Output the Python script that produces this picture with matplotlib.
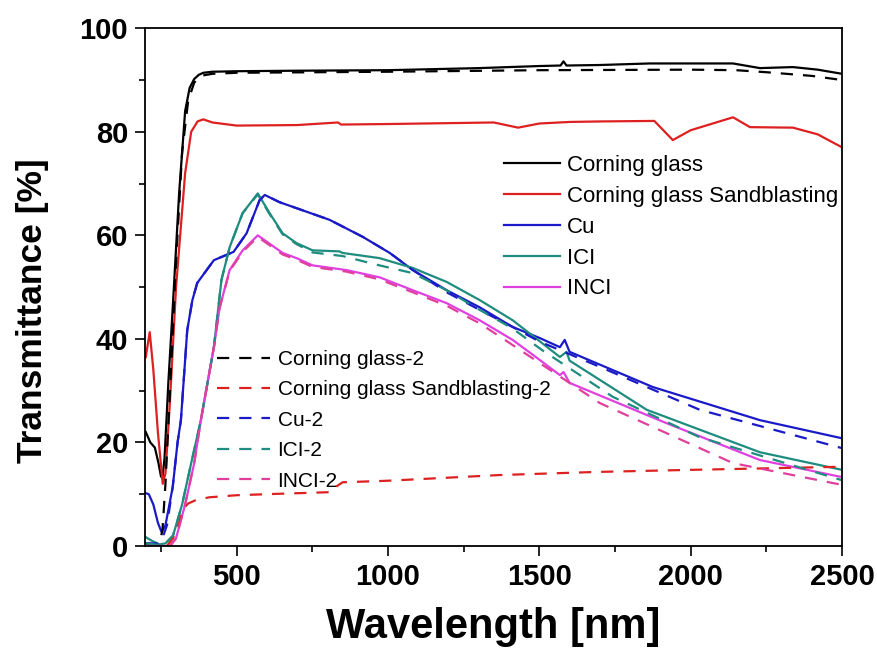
import matplotlib
matplotlib.use("Agg")
import matplotlib.pyplot as plt
from matplotlib.ticker import MultipleLocator

plt.rcParams["font.family"] = ["Liberation Sans", "DejaVu Sans"]

# ---- data (wavelength in nm, transmittance in %) ----
cg_wl = [200, 215, 230, 242, 250, 255, 262, 275, 290, 310, 330, 345, 360, 375, 390, 420, 500,
         700, 1000, 1300, 1500, 1570, 1580, 1590, 1700, 1865, 2000, 2140, 2229, 2338, 2420, 2500]
cg_t = [22, 20, 19, 16, 13.5, 13, 17, 32, 47, 68, 84, 88.5, 90.2, 91, 91.4, 91.6, 91.7,
        91.8, 91.9, 92.3, 92.7, 92.8, 93.6, 92.8, 92.9, 93.2, 93.2, 93.2, 92.3, 92.5, 92.0, 91.2]

cg2_wl = [200, 230, 245, 255, 265, 280, 300, 320, 340, 360, 380, 420, 500, 1000, 1500,
          2000, 2150, 2252, 2400, 2500]
cg2_t = [0.5, 0.3, 0.5, 3, 12, 30, 55, 76, 86, 89.5, 90.8, 91.2, 91.4, 91.6, 91.9,
         92.0, 91.9, 91.5, 90.8, 90.0]

sb_wl = [200, 213, 225, 240, 256, 265, 280, 300, 330, 350, 371, 390, 420, 500, 700, 835,
         845, 1000, 1350, 1430, 1500, 1600, 1700, 1880, 1941, 2000, 2140, 2196, 2338, 2420, 2500]
sb_t = [36.5, 41.3, 34, 22, 12, 14, 28, 50, 72, 80, 82, 82.4, 81.8, 81.2, 81.3, 81.8,
        81.4, 81.5, 81.8, 80.8, 81.6, 81.9, 82.0, 82.1, 78.4, 80.3, 82.8, 80.9, 80.8, 79.5, 77.0]

sb2_wl = [270, 290, 310, 321, 340, 367, 410, 500, 650, 814, 830, 850, 1000, 1369, 1690,
          2000, 2252, 2500]
sb2_t = [0, 1.5, 4.5, 7, 8.2, 8.9, 9.4, 9.8, 10.1, 10.4, 11.5, 12.3, 12.6, 13.7, 14.3,
         14.7, 15.0, 15.3]

cu_wl = [200, 210, 225, 240, 252, 265, 289, 305, 316, 337, 354, 370, 425, 490, 533, 576,
         593, 642, 807, 917, 1006, 1082, 1194, 1303, 1412, 1500, 1568, 1584, 1600, 1875,
         2229, 2500]
cu_t = [10.2, 10.0, 8, 4.5, 2.7, 4, 11.4, 20, 24.3, 41.7, 47.5, 50.8, 55.2, 56.8, 60.4,
        66.8, 67.8, 66.4, 63, 59.7, 56.6, 53.3, 49.4, 46.1, 42.3, 40.2, 38.4, 39.8, 37.5,
        30.7, 24.3, 20.8]

cu2_wl = [200, 240, 255, 270, 289, 305, 316, 337, 354, 370, 425, 490, 533, 576, 593, 642,
          807, 917, 1006, 1082, 1194, 1303, 1412, 1500, 1700, 2030, 2500]
cu2_t = [0.5, 0.5, 1.5, 4, 11.4, 20, 24.3, 41.7, 47.5, 50.8, 55.2, 56.8, 60.4, 66.8,
         67.8, 66.4, 63, 59.7, 56.6, 53.3, 49.0, 45.6, 42.3, 39.5, 34.6, 26.3, 18.9]

ici_wl = [200, 220, 245, 265, 290, 320, 350, 382, 425, 450, 477, 520, 570, 609, 652, 698,
          751, 840, 850, 972, 1082, 1194, 1303, 1412, 1500, 1568, 1590, 1600, 1855, 2229, 2500]
ici_t = [1.7, 1.0, 0.3, 0.5, 2, 8, 16, 24.3, 38.4, 51.4, 57.7, 64.3, 68.1, 64.3, 60.4,
         58.5, 57.1, 56.9, 56.6, 55.6, 53.7, 51, 47.5, 43.6, 39.6, 36.5, 37.5, 35.8,
         26.3, 18.1, 14.7]

ici2_wl = [200, 245, 265, 290, 320, 350, 382, 425, 450, 477, 520, 570, 609, 652, 698, 751,
           850, 972, 1082, 1194, 1303, 1412, 1510, 1743, 2030, 2500]
ici2_t = [0.5, 0.2, 0.5, 2, 8, 16, 24.3, 38.4, 51.4, 57.7, 64.3, 67.9, 64.1, 60.2, 58.3,
          56.7, 56.0, 54.2, 52.7, 49.4, 45.6, 42.0, 37.8, 28.8, 21.0, 12.7]

inci_wl = [200, 250, 280, 300, 330, 360, 382, 425, 444, 477, 520, 570, 652, 698, 751, 862,
           972, 1082, 1194, 1303, 1412, 1500, 1568, 1580, 1600, 1921, 2229, 2500]
inci_t = [0, 0, 0, 1.5, 8, 16, 24.3, 38.4, 46, 53.3, 57.1, 60, 56.6, 55.6, 54.2, 53.3,
          51.9, 49.4, 46.9, 43.6, 39.8, 36, 33, 33.6, 31.5, 23.7, 16.6, 13.3]

inci2_wl = [200, 250, 280, 300, 330, 360, 382, 425, 444, 477, 520, 570, 652, 698, 751, 862,
            972, 1082, 1194, 1303, 1402, 1700, 2140, 2500]
inci2_t = [0, 0, 0, 1.5, 8, 16, 24.3, 38.4, 46, 53.1, 56.8, 59.7, 56.3, 55.3, 53.9, 53.0,
           51.5, 49.0, 46.4, 43.0, 39.2, 27.6, 16.0, 11.8]

BLACK = "#000000"
RED = "#dd2020"
BLUE = "#1a1ac8"
TEAL = "#1e8c7e"
MAGENTA = "#e040e0"
PINK = "#e0409c"

solid = [
    ("Corning glass", cg_wl, cg_t, BLACK),
    ("Corning glass Sandblasting", sb_wl, sb_t, RED),
    ("Cu", cu_wl, cu_t, BLUE),
    ("ICI", ici_wl, ici_t, TEAL),
    ("INCI", inci_wl, inci_t, MAGENTA),
]
dashed = [
    ("Corning glass-2", cg2_wl, cg2_t, BLACK),
    ("Corning glass Sandblasting-2", sb2_wl, sb2_t, RED),
    ("Cu-2", cu2_wl, cu2_t, BLUE),
    ("ICI-2", ici2_wl, ici2_t, TEAL),
    ("INCI-2", inci2_wl, inci2_t, PINK),
]


def main():
    fig = plt.figure(figsize=(8.78, 6.57), dpi=100)
    ax = fig.add_axes([0.165, 0.169, 0.794, 0.788])

    lw = 1.6
    solid_h = []
    for name, x, y, c in solid:
        h, = ax.plot(x, y, color=c, lw=lw, label=name)
        solid_h.append(h)
    dashed_h = []
    for name, x, y, c in dashed:
        h, = ax.plot(x, y, color=c, lw=lw, ls=(0, (5.5, 4.5)), label=name)
        dashed_h.append(h)

    ax.set_xlim(197, 2500)
    ax.set_ylim(0, 100)
    ax.xaxis.set_major_locator(MultipleLocator(500))
    ax.xaxis.set_minor_locator(MultipleLocator(250))
    ax.yaxis.set_major_locator(MultipleLocator(20))
    ax.yaxis.set_minor_locator(MultipleLocator(10))
    ax.tick_params(which="both", direction="out", width=1.2, top=False, right=False)
    ax.tick_params(which="major", length=7, labelsize=21, pad=5)
    ax.tick_params(which="minor", length=4)
    for lab in ax.get_xticklabels() + ax.get_yticklabels():
        lab.set_fontweight("bold")
    for s in ax.spines.values():
        s.set_linewidth(1.3)

    ax.set_xlabel("Wavelength [nm]", fontsize=30, fontweight="bold", labelpad=12)
    ax.set_ylabel("Transmittance [%]", fontsize=25.5, fontweight="bold")
    ax.yaxis.set_label_coords(-0.137, 0.454)

    # solid-line legend (upper right) and dashed-line legend (lower left)
    leg1 = ax.legend(handles=solid_h, loc="upper left", bbox_to_anchor=(0.503, 0.772),
                     frameon=False, fontsize=16, handlelength=2.5, handletextpad=0.3,
                     labelspacing=0.44, borderaxespad=0)
    ax.add_artist(leg1)
    ax.legend(handles=dashed_h, loc="upper left", bbox_to_anchor=(0.092, 0.395),
              frameon=False, fontsize=15, handlelength=2.55, handletextpad=0.34,
              labelspacing=0.55, borderaxespad=0)

    fig.savefig("out.png", dpi=100)


if __name__ == "__main__":
    main()
